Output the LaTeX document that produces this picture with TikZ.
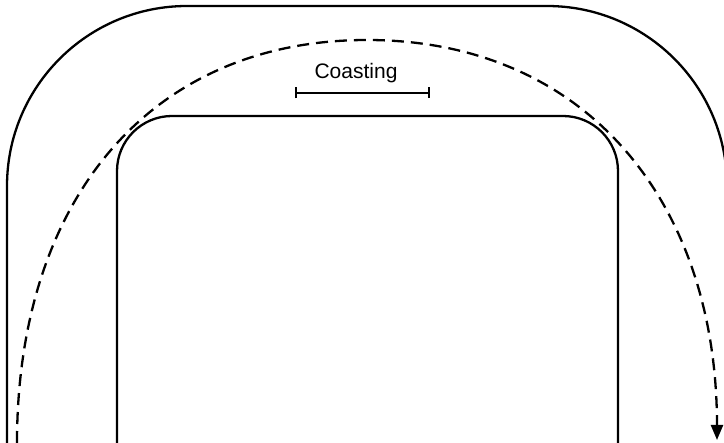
\documentclass[tikz,border=0pt]{standalone}
\usepackage{fontspec}
\setmainfont{Liberation Sans}
\usepackage{xcolor}
\usepackage{tikz}
\usetikzlibrary{arrows.meta,calc}
\definecolor{negro}{HTML}{000000}
\tikzset{
  pista/.style={draw=negro,line width=1.15pt,rounded corners=#1},
  recorrido/.style={draw=negro,line width=1.15pt,dash pattern=on 6pt off 3.5pt,-{Triangle[length=7.5pt,width=6pt]}},
  tramo/.style={draw=negro,line width=1pt,{Bar[width=5.5pt]}-{Bar[width=5.5pt]}},
  rotulo/.style={font=\fontsize{10.5}{12}\selectfont,inner sep=0pt},
}

\begin{document}
\begin{tikzpicture}[x=0.5pt,y=-0.5pt]
  \useasboundingbox (0,0) rectangle (724,443);
  \clip (0,0) rectangle (724,443);
  % pista exterior e interior
  \draw[pista=90pt] (7,443) |- (367,6) -| (727,443);
  \draw[pista=27.5pt] (117,443) |- (367,116) -| (618,443);
  % recorrido en rueda libre
  \coordinate (salida) at (17,443);
  \coordinate (cima) at (367,40);
  \coordinate (llegada) at (717,440);
  \draw[recorrido] (salida) .. controls +(0,-243) and +(-217,0) .. (cima)
    .. controls +(217,0) and +(0,-240) .. (llegada);
  \coordinate (ini) at (295,93);
  \coordinate (fin) at (430,93);
  \draw[tramo] (ini) -- (fin);
  \node[rotulo] (coast) at (356,73) {Coasting};
\end{tikzpicture}
\end{document}
